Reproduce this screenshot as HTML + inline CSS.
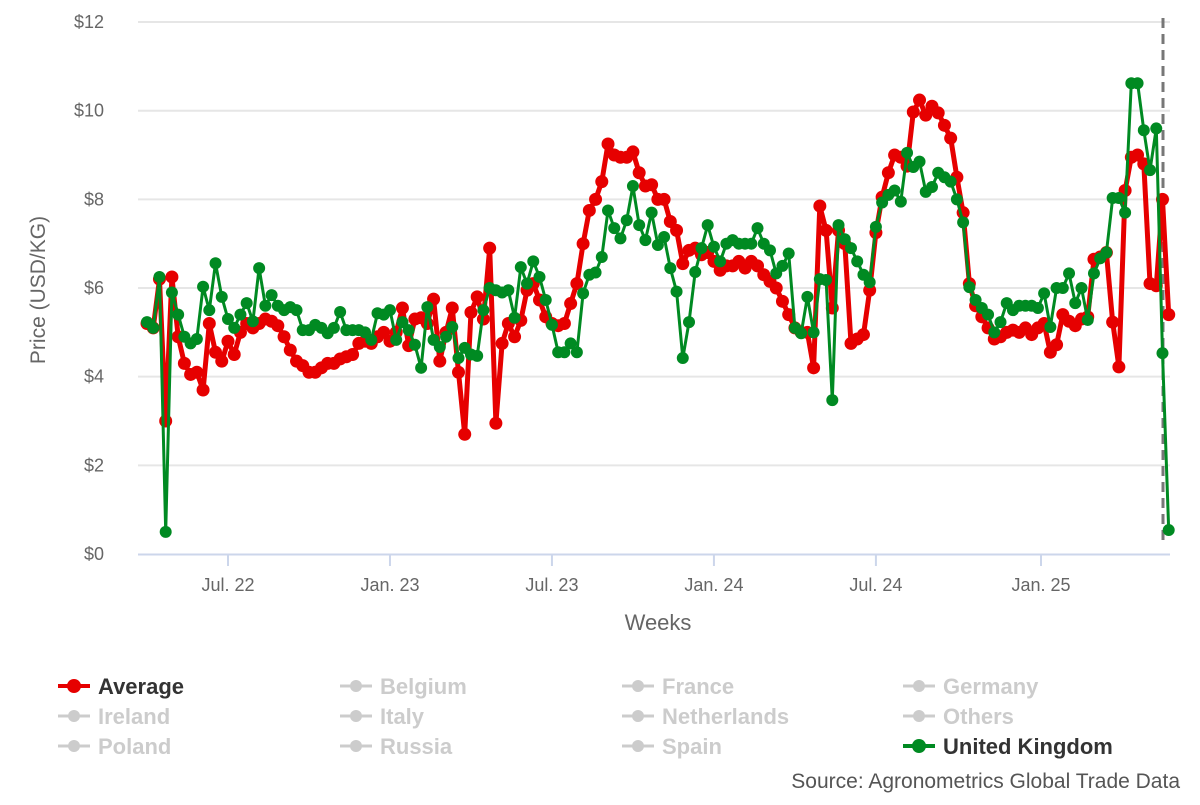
<!DOCTYPE html>
<html><head><meta charset="utf-8"><style>
html,body{margin:0;padding:0;background:#fff;}
body{width:1200px;height:800px;overflow:hidden;font-family:"Liberation Sans",sans-serif;}
</style></head><body>
<svg id="chart" width="1200" height="800" xmlns="http://www.w3.org/2000/svg" style="font-family:'Liberation Sans',sans-serif">
<g id="grid"></g>
<g id="yaxis"></g>
<g id="xaxis"></g>
<text x="45" y="290" transform="rotate(-90 45 290)" text-anchor="middle" font-size="21" fill="#666">Price (USD/KG)</text>
<text x="658" y="630" text-anchor="middle" font-size="22" fill="#666">Weeks</text>
<line x1="1163" y1="18" x2="1163" y2="540" stroke="#777" stroke-width="3" stroke-dasharray="10,6"/>
<g id="series"></g>
<g id="legend"></g>
<text x="1180" y="788" text-anchor="end" font-size="21" fill="#555">Source: Agronometrics Global Trade Data</text>
</svg>
<script>
const yTicks = [0,2,4,6,8,10,12];
const yTickLabels = ["$0","$2","$4","$6","$8","$10","$12"];
const xTickWeeks = [13,39,65,91,117,143.5];
const xTickLabels = ["Jul. 22","Jan. 23","Jul. 23","Jan. 24","Jul. 24","Jan. 25"];
const averageValues = [5.2,5.1,6.2,3.0,6.25,4.9,4.3,4.05,4.1,3.7,
5.2,4.55,4.35,4.8,4.5,5.0,5.2,5.1,5.2,5.3,
5.25,5.15,4.9,4.6,4.35,4.25,4.1,4.1,4.2,4.3,
4.3,4.4,4.45,4.5,4.75,4.8,4.75,4.9,5.0,4.8,
5.0,5.55,4.7,5.3,5.33,5.2,5.75,4.35,5.0,5.55,
4.1,2.7,5.45,5.8,5.3,6.9,2.95,4.75,5.2,4.9,
5.27,5.95,6.1,5.73,5.35,5.2,5.15,5.2,5.65,6.1,
7.0,7.75,8.0,8.4,9.25,9.0,8.95,8.95,9.07,8.6,
8.3,8.33,8.0,8.0,7.5,7.3,6.55,6.85,6.9,6.75,
6.8,6.6,6.4,6.5,6.5,6.6,6.45,6.6,6.5,6.3,
6.15,6.0,5.7,5.4,5.1,5.0,5.0,4.2,7.85,7.3,
5.55,7.3,7.0,4.75,4.85,4.95,5.95,7.25,8.05,8.6,
9.0,8.95,8.75,9.97,10.24,9.9,10.1,9.95,9.67,9.38,
8.5,7.7,6.1,5.6,5.35,5.1,4.85,4.9,5.0,5.05,
5.0,5.1,4.95,5.1,5.2,4.55,4.72,5.4,5.25,5.15,
5.3,5.35,6.65,6.7,6.8,5.23,4.22,8.2,8.95,9.0,
8.8,6.1,6.05,8.0,5.4];
const ukValues = [5.23,5.1,6.25,0.5,5.9,5.4,4.9,4.75,4.85,6.03,
5.5,6.56,5.8,5.3,5.1,5.4,5.66,5.25,6.45,5.6,
5.84,5.6,5.5,5.57,5.5,5.05,5.05,5.17,5.1,4.98,
5.1,5.46,5.05,5.05,5.05,5.0,4.83,5.43,5.4,5.5,
4.83,5.23,5.05,4.72,4.2,5.57,4.83,4.67,4.9,5.12,
4.42,4.65,4.5,4.47,5.5,6.0,5.95,5.9,5.95,5.33,
6.47,6.1,6.6,6.25,5.73,5.17,4.55,4.55,4.75,4.55,
5.88,6.3,6.35,6.7,7.75,7.35,7.12,7.53,8.3,7.42,
7.08,7.7,6.97,7.15,6.45,5.92,4.42,5.23,6.36,6.9,
7.42,6.93,6.6,7.0,7.08,7.0,7.0,7.0,7.35,7.0,
6.85,6.33,6.5,6.78,5.1,4.98,5.8,5.0,6.2,6.18,
3.47,7.42,7.1,6.9,6.6,6.3,6.13,7.38,7.93,8.1,
8.2,7.95,9.05,8.73,8.85,8.17,8.28,8.6,8.5,8.4,
8.0,7.48,6.02,5.73,5.55,5.4,5.0,5.23,5.66,5.5,
5.6,5.6,5.6,5.55,5.88,5.12,6.0,6.0,6.33,5.66,
6.0,5.28,6.33,6.67,6.8,8.03,8.03,7.7,10.62,10.62,
9.56,8.66,9.6,4.53,0.54];
const legendNames = ["Average","Belgium","France","Germany","Ireland","Italy","Netherlands","Others","Poland","Russia","Spain","United Kingdom"];
const legendActive = [true,false,false,false,false,false,false,false,false,false,false,true];
const legendColors = ["#e60000","#ccc","#ccc","#ccc","#ccc","#ccc","#ccc","#ccc","#ccc","#ccc","#ccc","#008a22"];

const NS="http://www.w3.org/2000/svg";
const X0=147, DX=6.23, Y0=554, DY=44.33;
function xs(i){return X0+i*DX;}
function ys(v){return Y0-v*DY;}
function mk(tag,attrs,parent){const e=document.createElementNS(NS,tag);for(const k in attrs)e.setAttribute(k,attrs[k]);parent.appendChild(e);return e;}

const grid=document.getElementById('grid'), ya=document.getElementById('yaxis'), xa=document.getElementById('xaxis');
yTicks.forEach((t,k)=>{
  if(t>0){const g=mk('line',{x1:138,x2:1170,y1:ys(t),y2:ys(t),stroke:'#e6e6e6','stroke-width':2},grid);
  
  }
  const l=mk('text',{x:104,y:ys(t)+6,'text-anchor':'end','font-size':18,fill:'#666'},ya);
  l.textContent=yTickLabels[k];
  
  
});
const axl=mk('line',{x1:138,x2:1170,y1:Y0+0.5,y2:Y0+0.5,stroke:'#ccd6eb','stroke-width':2},xa);


xTickWeeks.forEach((w,k)=>{
  const tk=mk('line',{x1:xs(w),x2:xs(w),y1:Y0,y2:Y0+12,stroke:'#ccd6eb','stroke-width':2},xa);
  
  
  const l=mk('text',{x:xs(w),y:591,'text-anchor':'middle','font-size':18,fill:'#666'},xa);
  l.textContent=xTickLabels[k];
  
  
});

const ser=document.getElementById('series');
function drawSeries(vals,color,lw,r,name){
  const g=mk('g',{},ser);
  
  
  const pts=vals.map((v,i)=>xs(i).toFixed(1)+','+ys(v).toFixed(1)).join(' ');
  const pl=mk('polyline',{points:pts,fill:'none',stroke:color,'stroke-width':lw,'stroke-linejoin':'round'},g);
  
  
  vals.forEach((v,i)=>{
    const c=mk('circle',{cx:xs(i),cy:ys(v),r:r,fill:color},g);
    
    
  });
}
drawSeries(averageValues,'#e60000',5,6.5,'average-series');
drawSeries(ukValues,'#008a22',3,6,'uk-series');

const lg=document.getElementById('legend');
const colX=[58,340,622,903], rowY=[686,716,746];
legendNames.forEach((n,k)=>{
  const x=colX[k%4], y=rowY[Math.floor(k/4)];
  const g=mk('g',{},lg);
  
  
  mk('line',{x1:x,x2:x+32,y1:y,y2:y,stroke:legendColors[k],'stroke-width':legendActive[k]?4:3},g);
  mk('circle',{cx:x+16,cy:y,r:legendActive[k]?7:6,fill:legendColors[k]},g);
  const t=mk('text',{x:x+40,y:y+8,'font-size':22,'font-weight':'bold',fill:legendActive[k]?'#333':'#ccc'},g);
  t.textContent=n;
});
</script>
</body></html>
